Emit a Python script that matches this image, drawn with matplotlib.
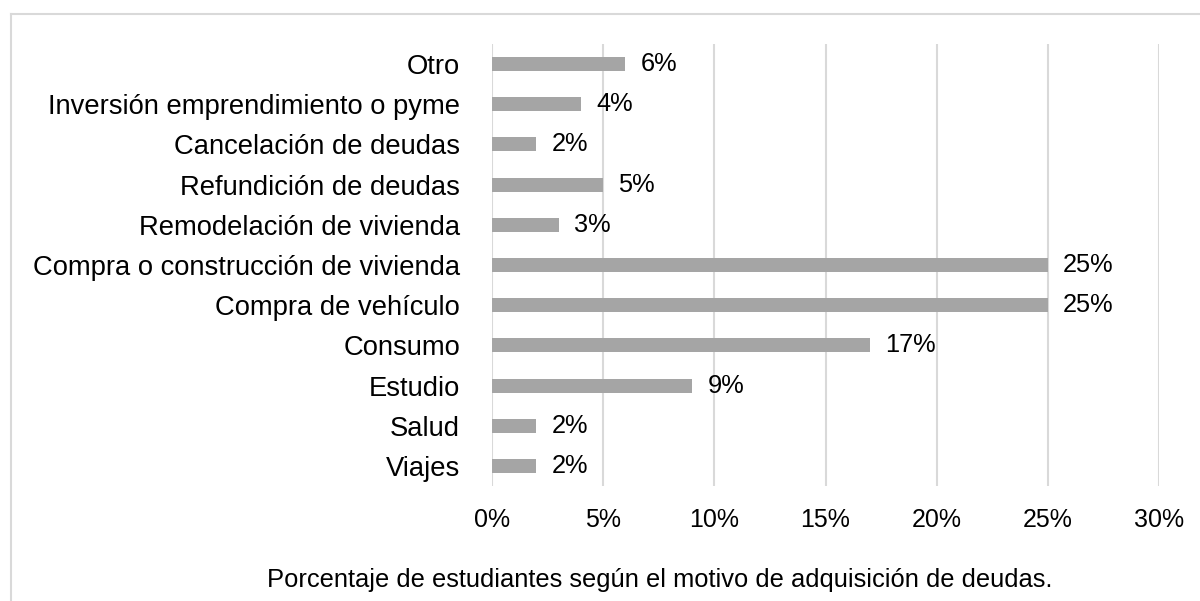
import matplotlib
matplotlib.use("Agg")
import matplotlib.pyplot as plt
from matplotlib.lines import Line2D
from matplotlib.ticker import FuncFormatter

plt.rcParams['font.family'] = ['Liberation Sans', 'DejaVu Sans']

categories = ["Viajes", "Salud", "Estudio", "Consumo", "Compra de vehículo",
              "Compra o construcción de vivienda", "Remodelación de vivienda",
              "Refundición de deudas", "Cancelación de deudas",
              "Inversión emprendimiento o pyme", "Otro"]
values = [2, 2, 9, 17, 25, 25, 3, 5, 2, 4, 6]
xticks = [0, 5, 10, 15, 20, 25, 30]
caption = "Porcentaje de estudiantes según el motivo de adquisición de deudas."

fig = plt.figure(figsize=(12, 6.01), dpi=100)
ax = fig.add_axes([0.41, 1 - 486/601, 1159/1200 - 0.41, (486 - 44)/601])

ypos = list(range(len(categories)))
ax.barh(ypos, values, height=0.35, color="#A5A5A5", zorder=3)
for y, v in zip(ypos, values):
    ax.annotate(f"{v}%", (v, y), xytext=(11, 0), textcoords="offset points",
                va="center", ha="left", fontsize=18.3, color="#000000")

ax.set_xlim(0, 30)
ax.set_ylim(-0.5, len(categories) - 0.5)
ax.set_xticks(xticks)
ax.xaxis.set_major_formatter(FuncFormatter(lambda x, p: f"{int(x)}%"))
ax.set_yticks(ypos)
ax.set_yticklabels(categories, fontsize=19.7)
ax.tick_params(axis='x', length=0, labelsize=18, colors="#000000", pad=16)
ax.tick_params(axis='y', length=0, colors="#000000", pad=23)
ax.grid(axis='x', color="#D9D9D9", linewidth=1.5, zorder=0)
for s in ax.spines.values():
    s.set_visible(False)

# figure border (top and left)
fig.add_artist(Line2D([11/1200, 1.0], [1 - 14/601, 1 - 14/601], color="#D9D9D9", linewidth=1.5,
                      transform=fig.transFigure))
fig.add_artist(Line2D([11/1200, 11/1200], [0, 1 - 14/601], color="#D9D9D9", linewidth=1.5,
                      transform=fig.transFigure))

fig.text(660/1200, 1 - 580/601, caption, fontsize=18.4, ha="center", va="center", color="#000000")

fig.savefig("out.png", dpi=100, facecolor="white")
